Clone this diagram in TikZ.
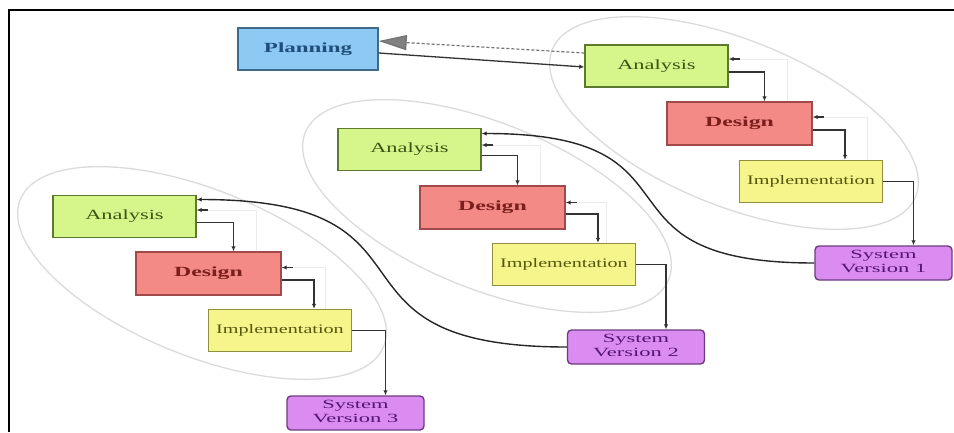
\documentclass[tikz,border=0pt]{standalone}
\usepackage{fontspec}
\setmainfont{Liberation Serif}
\usetikzlibrary{arrows.meta}
\definecolor{plfill}{HTML}{8DC9F3}\definecolor{plline}{HTML}{3E6A8C}\definecolor{pltext}{HTML}{1F4E79}
\definecolor{anfill}{HTML}{D6F58A}\definecolor{anline}{HTML}{5B7A2E}\definecolor{antext}{HTML}{3A5414}
\definecolor{defill}{HTML}{F48A86}\definecolor{deline}{HTML}{A04A4A}\definecolor{detext}{HTML}{7A1E1E}
\definecolor{imfill}{HTML}{F6F58C}\definecolor{imline}{HTML}{8F8F40}\definecolor{imtext}{HTML}{56560E}
\definecolor{syfill}{HTML}{DA8CF0}\definecolor{syline}{HTML}{6E3B82}\definecolor{sytext}{HTML}{551672}
\newcommand{\wt}[2]{\scalebox{#1}[1]{#2}}
\newcommand{\systxt}[1]{\wt{1.8}{\begin{tabular}{@{}c@{}}System\\Version #1\end{tabular}}}
\begin{document}
\begin{tikzpicture}[x=1pt,y=-1pt,
  box/.style={draw, line width=1.4pt, minimum width=143pt, minimum height=42pt, inner sep=0pt},
  plbox/.style={box, fill=plfill, draw=plline, text=pltext, minimum width=140pt, font=\fontsize{14}{16}\selectfont\bfseries},
  anbox/.style={box, fill=anfill, draw=anline, text=antext, font=\fontsize{14}{16}\selectfont},
  debox/.style={box, fill=defill, draw=deline, text=detext, minimum width=145pt, minimum height=43pt, font=\fontsize{14}{16}\selectfont\bfseries},
  imbox/.style={box, fill=imfill, draw=imline, text=imtext, font=\fontsize{13}{15}\selectfont},
  sybox/.style={box, rounded corners=4pt, fill=syfill, draw=syline, text=sytext, minimum width=137pt, minimum height=34pt, font=\fontsize{12.5}{13.5}\selectfont},
  ell/.style={draw=black!14, line width=1.3pt},
  flow/.style={draw=black!80, line width=1.3pt, -{Latex[length=5pt,width=4.5pt]}},
  fb/.style={draw=black!8, line width=1pt},
  back/.style={draw=black!85, line width=1.4pt, -{Latex[length=5pt,width=4.5pt]}},
  dline/.style={draw=black!55, line width=1.2pt, dash pattern=on 3pt off 2pt, -{Triangle[length=28pt,width=15pt,fill=black!50,color=black!55]}}
]
\fill[white] (0,0) rectangle (954,432);
\useasboundingbox (0,0) rectangle (954,432);
\draw[line width=2pt] (9,432) -- (9,10) -- (954,10);

% grouping ellipses
\draw[ell, rotate around={-22:(734,123)}] (734,123) ellipse [x radius=196pt, y radius=83pt];
\draw[ell, rotate around={-22:(487,206)}] (487,206) ellipse [x radius=196pt, y radius=83pt];
\draw[ell, rotate around={-22:(202,273)}] (202,273) ellipse [x radius=196pt, y radius=83pt];

% nodes
\node[plbox] (pl) at (308,49) {\wt{1.64}{Planning}};

\node[anbox] (a1) at (656.5,66) {\wt{1.6}{Analysis}};
\node[debox] (d1) at (739.5,123.5) {\wt{1.7}{Design}};
\node[imbox] (i1) at (811,181.5) {\wt{1.55}{Implementation}};
\node[sybox] (s1) at (883.5,263) {\systxt{1}};

\node[anbox] (a2) at (409.5,149.5) {\wt{1.6}{Analysis}};
\node[debox] (d2) at (492.5,207.5) {\wt{1.7}{Design}};
\node[imbox] (i2) at (564,264.5) {\wt{1.55}{Implementation}};
\node[sybox] (s2) at (636,347) {\systxt{2}};

\node[anbox] (a3) at (124.5,216.5) {\wt{1.6}{Analysis}};
\node[debox] (d3) at (208.5,273.5) {\wt{1.7}{Design}};
\node[imbox] (i3) at (280,330.5) {\wt{1.55}{Implementation}};
\node[sybox] (s3) at (355.5,413) {\systxt{3}};

% planning links
\draw[flow] ([yshift=-4pt]pl.east) -- ([yshift=-1pt]a1.west);
\draw[dline] ([yshift=13pt]a1.west) -- ([yshift=8pt]pl.east);

% faint feedback paths
\draw[fb] ([xshift=48pt]d1.north) |- ([yshift=7pt]a1.east);
\draw[fb] ([xshift=56pt]i1.north) |- ([yshift=6.5pt]d1.east);
\draw[fb] ([xshift=48pt]d2.north) |- ([yshift=4.5pt]a2.east);
\draw[fb] ([xshift=42pt]i2.north) |- ([yshift=5pt]d2.east);
\draw[fb] ([xshift=48pt]d3.north) |- ([yshift=6.5pt]a3.east);
\draw[fb] ([xshift=45pt]i3.north) |- ([yshift=6pt]d3.east);

% feedback arrow stubs
\draw[flow] ([xshift=11pt,yshift=7pt]a1.east) -- ([yshift=7pt]a1.east);
\draw[flow] ([xshift=11pt,yshift=6.5pt]d1.east) -- ([yshift=6.5pt]d1.east);
\draw[flow] ([xshift=11pt,yshift=4.5pt]a2.east) -- ([yshift=4.5pt]a2.east);
\draw[flow] ([xshift=11pt,yshift=5pt]d2.east) -- ([yshift=5pt]d2.east);
\draw[flow] ([xshift=11pt,yshift=6.5pt]a3.east) -- ([yshift=6.5pt]a3.east);
\draw[flow] ([xshift=11pt,yshift=6pt]d3.east) -- ([yshift=6pt]d3.east);

% forward flow
\draw[flow] ([yshift=-6pt]a1.east) -| ([xshift=25pt]d1.north);
\draw[flow] ([yshift=-6.5pt]d1.east) -| ([xshift=34pt]i1.north);
\draw[flow] (i1.east) -| ([xshift=30pt]s1.north);

\draw[flow] ([yshift=-6pt]a2.east) -| ([xshift=25pt]d2.north);
\draw[flow] ([yshift=-6.5pt]d2.east) -| ([xshift=34pt]i2.north);
\draw[flow] (i2.east) -| ([xshift=30pt]s2.north);

\draw[flow] ([yshift=-6pt]a3.east) -| ([xshift=25pt]d3.north);
\draw[flow] ([yshift=-6.5pt]d3.east) -| ([xshift=34pt]i3.north);
\draw[flow] (i3.east) -| ([xshift=30pt]s3.north);

% version loops
\draw[back] (s1.west) .. controls +(-235,0) and +(235,0) .. ([yshift=16pt]a2.east);
\draw[back] (s2.west) .. controls +(-262,0) and +(262,0) .. ([yshift=17pt]a3.east);
\end{tikzpicture}
\end{document}
